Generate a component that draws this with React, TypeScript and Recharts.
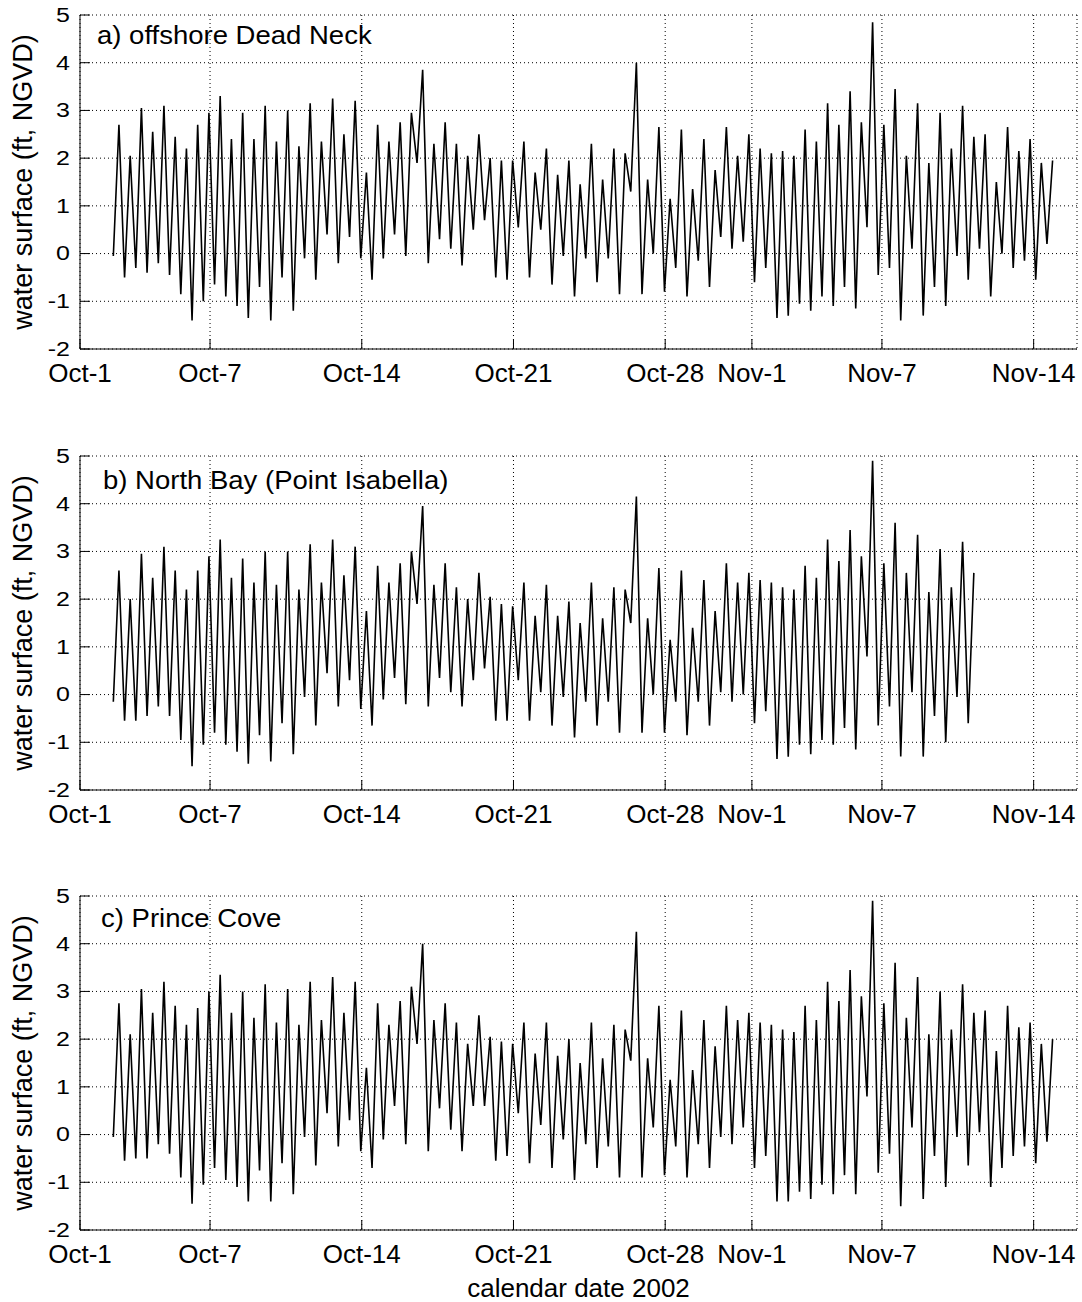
import { LineChart, Line, XAxis, YAxis, CartesianGrid } from 'recharts';

const FONT = '"Liberation Sans", Arial, Helvetica, sans-serif';

// x axis in days after Oct-1 2002
const dayTicks = [0, 6, 13, 20, 27, 31, 37, 44];
const dayLabels = ['Oct-1', 'Oct-7', 'Oct-14', 'Oct-21', 'Oct-28', 'Nov-1', 'Nov-7', 'Nov-14'];
const levelTicks = [-2, -1, 0, 1, 2, 3, 4, 5];

// successive low/high water levels (ft, NGVD), one every half tidal cycle
const firstExtremeDay = 1.537;
const halfTideDays = 0.2595;

const deadNeck = [
  -0.05, 2.7, -0.5, 2.05, -0.3, 3.05, -0.4, 2.55, -0.2, 3.1,
  -0.45, 2.45, -0.85, 2.2, -1.4, 2.7, -1.0, 2.95, -0.65, 3.3,
  -0.9, 2.4, -1.1, 2.95, -1.35, 2.4, -0.7, 3.1, -1.4, 2.35,
  -0.5, 3.0, -1.2, 2.25, -0.1, 3.15, -0.55, 2.35, 0.4, 3.25,
  -0.2, 2.5, 0.35, 3.2, -0.1, 1.7, -0.55, 2.7,
  -0.1, 2.35, 0.4, 2.75, -0.05, 2.95, 1.9, 3.85, -0.2, 2.3,
  0.3, 2.75, 0.1, 2.3, -0.25, 2.05, 0.5, 2.5, 0.7, 2.0,
  -0.5, 1.95, -0.55, 1.95, 0.55, 2.35, -0.5, 1.7, 0.5, 2.2,
  -0.65, 1.65, -0.05, 1.95, -0.9, 1.45, -0.1, 2.3, -0.6, 1.55,
  -0.1, 2.2, -0.85, 2.1, 1.3, 4.0, -0.85, 1.55, 0.0, 2.65,
  -0.8, 1.15, -0.3, 2.6, -0.9, 1.35, -0.15, 2.4, -0.7, 1.75,
  0.35, 2.65, 0.1, 2.05, 0.25, 2.5, -0.6, 2.2,
  -0.3, 2.1, -1.35, 2.15, -1.3, 2.05, -1.05, 2.6, -1.2, 2.35,
  -0.9, 3.15, -1.1, 2.7, -0.7, 3.4, -1.15, 2.75, 0.55, 4.85,
  -0.45, 2.7, -0.3, 3.45, -1.4, 2.05, 0.1, 3.15, -1.3, 1.9,
  -0.7, 2.95, -1.1, 2.2, -0.05, 3.1, -0.55, 2.45, 0.1, 2.5,
  -0.9, 1.5, 0.0, 2.65, -0.3, 2.15, -0.15, 2.4, -0.55, 1.9,
  0.2, 1.95,
];

const northBay = [
  -0.15, 2.6, -0.55, 2.0, -0.55, 2.95, -0.45, 2.45, -0.25, 3.1,
  -0.45, 2.6, -0.95, 2.2, -1.5, 2.6, -1.05, 2.9, -0.8, 3.25,
  -1.05, 2.45, -1.2, 2.85, -1.45, 2.35, -0.85, 3.0, -1.4, 2.3,
  -0.6, 3.0, -1.25, 2.2, -0.05, 3.15, -0.65, 2.35, 0.45, 3.25,
  -0.25, 2.5, 0.3, 3.1,
  -0.3, 1.75, -0.65, 2.7, -0.1, 2.35, 0.35, 2.75, -0.2, 3.0, 1.9, 3.95,
  -0.25, 2.3, 0.35, 2.75, 0.05, 2.25, -0.25, 2.0, 0.3, 2.55,
  0.55, 2.05, -0.55, 1.9, -0.55, 1.85, 0.3, 2.35, -0.55, 1.65,
  0.05, 2.3, -0.65, 1.65, -0.05, 1.95, -0.9, 1.5, -0.15, 2.35,
  -0.65, 1.6, -0.15, 2.25, -0.8, 2.2, 1.5, 4.15, -0.8, 1.6,
  0.0, 2.65, -0.8, 1.15, -0.15, 2.6, -0.85,
  1.4, -0.15, 2.4, -0.65, 1.75, 0.05, 2.75, -0.15, 2.35, 0.0,
  2.55, -0.6, 2.4, -0.35, 2.35, -1.35, 2.25, -1.3, 2.2, -1.05,
  2.7, -1.25, 2.45, -0.95, 3.25, -1.05, 2.8, -0.7, 3.45, -1.15,
  2.9, 0.8, 4.9, -0.65, 2.75, -0.25, 3.6, -1.3, 2.55, 0.05,
  3.35, -1.3, 2.15, -0.45, 3.05, -1.0, 2.25, -0.05, 3.2, -0.6,
  2.55,
];

const princeCove = [
  -0.05, 2.75, -0.55, 2.1, -0.5, 3.05, -0.5, 2.55, -0.2, 3.2,
  -0.4, 2.7, -0.9, 2.3, -1.45, 2.65, -1.05, 3.0, -0.7, 3.35,
  -0.95, 2.55, -1.1, 3.0, -1.4, 2.45, -0.75, 3.15, -1.4, 2.35,
  -0.6, 3.05, -1.25, 2.3, -0.05, 3.2, -0.65, 2.4, 0.45, 3.3,
  -0.25, 2.55, 0.3, 3.2,
  -0.35, 1.4, -0.7, 2.75, -0.1, 2.3, 0.6, 2.8, -0.2, 3.1, 1.9, 4.0,
  -0.35, 2.4, 0.55, 2.75, 0.1, 2.35, -0.35, 1.9, 0.6, 2.5,
  0.6, 2.05, -0.55, 1.95, -0.45, 1.9, 0.45, 2.35, -0.6, 1.7,
  0.2, 2.35, -0.7, 1.65, -0.1, 2.0, -0.95, 1.5, -0.2, 2.35,
  -0.7, 1.6, -0.25, 2.3, -0.9, 2.2, 1.55, 4.25, -0.9, 1.6,
  0.15, 2.7, -0.85, 1.15, -0.25, 2.6, -0.9,
  1.35, -0.2, 2.4, -0.7, 1.85, -0.05, 2.7, -0.2, 2.4, 0.15,
  2.55, -0.7, 2.35, -0.45, 2.3, -1.4, 2.2, -1.4, 2.15, -1.2,
  2.7, -1.35, 2.4, -1.05, 3.2, -1.25, 2.8, -0.85, 3.45, -1.25,
  2.9, 0.8, 4.9, -0.8, 2.75, -0.4, 3.6, -1.5, 2.45, 0.15,
  3.3, -1.35, 2.1, -0.45, 3.0, -1.1, 2.2, -0.05, 3.15, -0.65,
  2.55, 0.05, 2.6, -1.1, 1.75, -0.7, 2.7, -0.45, 2.25, -0.25,
  2.35, -0.6, 1.9, -0.15, 2.0,
];

const toRows = (levels: number[]) =>
  levels.map((v, i) => ({ t: firstExtremeDay + i * halfTideDays, v }));

const dayLabel = (d: number) => dayLabels[dayTicks.indexOf(d)] ?? '';

// y tick labels in the original are drawn wide and short
const LevelTick = (props: any) => {
  const { x, y, payload } = props;
  return (
    <text
      transform={`translate(${x},${y}) scale(1.25,1)`}
      textAnchor="end"
      dy="0.34em"
      fontSize={20}
      fontFamily={FONT}
      fill="#000"
    >
      {payload.value}
    </text>
  );
};

const PLOT_TOP = 15;
const PLOT_H = 334;

type PanelProps = {
  title: string;
  levels: number[];
  top: number;
  height: number;
  titleLeft: number;
  titleTop: number;
  xLabel?: string;
};

function Panel({ title, levels, top, height, titleLeft, titleTop, xLabel }: PanelProps) {
  const rows = toRows(levels);
  const axisH = xLabel ? 72 : 40;
  const bottom = height - PLOT_TOP - PLOT_H - axisH;
  return (
    <div style={{ position: 'absolute', left: 0, top, width: 1082, height }}>
      <LineChart
        width={1082}
        height={height}
        data={rows}
        margin={{ top: PLOT_TOP, right: 5, bottom, left: 0 }}
      >
        <CartesianGrid stroke="#000" strokeDasharray="1 3" strokeWidth={1} />
        <XAxis
          dataKey="t"
          type="number"
          domain={[0, 46]}
          ticks={dayTicks}
          interval={0}
          tickFormatter={dayLabel}
          tickSize={-10}
          tickMargin={25}
          height={axisH}
          axisLine={{ stroke: '#000' }}
          tickLine={{ stroke: '#000' }}
          tick={{ fill: '#000', fontSize: 26, fontFamily: FONT }}
          label={
            xLabel
              ? {
                  value: xLabel,
                  position: 'insideBottom',
                  offset: 5,
                  style: { fill: '#000', fontSize: 26, fontFamily: FONT },
                }
              : undefined
          }
        />
        <XAxis
          xAxisId="top"
          orientation="top"
          dataKey="t"
          type="number"
          domain={[0, 46]}
          ticks={dayTicks}
          interval={0}
          tick={false}
          tickSize={-10}
          height={0}
          axisLine={{ stroke: '#000' }}
          tickLine={{ stroke: '#000' }}
        />
        <YAxis
          type="number"
          domain={[-2, 5]}
          ticks={levelTicks}
          interval={0}
          tickSize={-10}
          tickMargin={20}
          width={80}
          axisLine={{ stroke: '#000' }}
          tickLine={{ stroke: '#000' }}
          tick={<LevelTick />}
          label={{
            value: 'water surface (ft, NGVD)',
            angle: -90,
            position: 'insideLeft',
            offset: 22,
            style: { textAnchor: 'middle', fill: '#000', fontSize: 27, fontFamily: FONT },
          }}
        />
        <YAxis
          yAxisId="right"
          orientation="right"
          type="number"
          domain={[-2, 5]}
          ticks={levelTicks}
          interval={0}
          tick={false}
          tickSize={-10}
          width={0}
          axisLine={{ stroke: '#000' }}
          tickLine={{ stroke: '#000' }}
        />
        <Line
          dataKey="v"
          type="linear"
          stroke="#000"
          strokeWidth={1.6}
          dot={false}
          isAnimationActive={false}
        />
      </LineChart>
      <div
        style={{
          position: 'absolute',
          left: titleLeft,
          top: titleTop,
          fontFamily: FONT,
          fontSize: 25,
          lineHeight: 1,
          color: '#000',
          whiteSpace: 'nowrap',
          transform: 'scaleX(1.1)',
          transformOrigin: 'left center',
        }}
      >
        {title}
      </div>
    </div>
  );
}

export default function App() {
  return (
    <div
      style={{
        position: 'absolute',
        left: 0,
        top: 0,
        width: 1082,
        height: 1302,
        background: '#fff',
        overflow: 'hidden',
      }}
    >
      <Panel title="a) offshore Dead Neck" levels={deadNeck} top={0} height={440} titleLeft={97} titleTop={23} />
      <Panel title="b) North Bay (Point Isabella)" levels={northBay} top={441} height={440} titleLeft={103} titleTop={27} />
      <Panel
        title="c) Prince Cove"
        levels={princeCove}
        top={881}
        height={421}
        titleLeft={101}
        titleTop={25}
        xLabel="calendar date 2002"
      />
    </div>
  );
}
